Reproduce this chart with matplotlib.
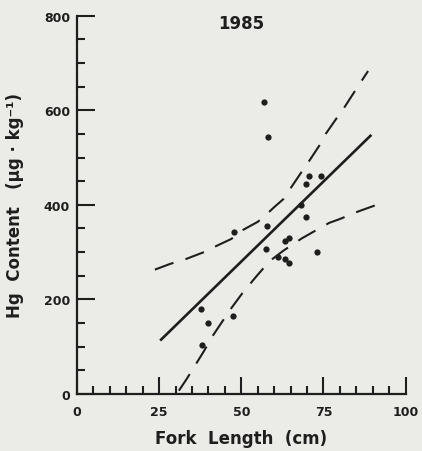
import matplotlib
matplotlib.use("Agg")
import matplotlib.pyplot as plt
from matplotlib.ticker import MultipleLocator

# Data
fork_length = [56.9, 58.2, 47.8, 57.8, 57.6, 61.3, 63.3, 64.5, 63.3, 64.6,
               68.1, 69.8, 69.7, 70.5, 74.2, 72.9, 37.7, 37.9, 39.9, 47.4]
hg_content = [618, 543, 342, 356, 306, 289, 285, 278, 323, 329,
              399, 375, 444, 461, 461, 300, 180, 104, 151, 165]

fit_x = [25.3, 89.6]
fit_y = [113, 548]

upper_x = [23.7, 28.3, 33, 39, 41.5, 47, 50, 55, 57.7, 60, 62.8, 65, 68.3, 70.4, 74.4, 75.7, 79.5, 81, 85, 88.6]
upper_y = [263, 275, 285, 301, 310, 328, 345, 364, 380, 395, 412, 435, 469, 490, 532, 550, 588, 602, 645, 683]

lower_x = [31, 33.4, 35.9, 38.4, 41.5, 46.6, 50.1, 54.5, 56.5, 59.2, 62.8, 68.4, 71.7, 76.8, 80, 85.6, 91.2]
lower_y = [7, 32, 60, 88, 125, 178, 211, 248, 264, 284, 303, 329, 342, 362, 370, 386, 400]

title = "1985"
xlabel = "Fork  Length  (cm)"
ylabel = "Hg  Content   (\u00b5g \u00b7 kg\u207b\u00b9)"

bg = "#ebebe7"
ink = "#1e1e1e"

fig = plt.figure(figsize=(4.22, 4.52), dpi=100, facecolor=bg)
ax = fig.add_axes([0.1825, 0.1261, 0.7785, 0.837])
ax.set_facecolor(bg)

ax.plot(fit_x, fit_y, color=ink, lw=1.9, solid_capstyle="butt")
ax.plot(upper_x, upper_y, color=ink, lw=1.5, linestyle=(0, (9.5, 6)))
ax.plot(lower_x, lower_y, color=ink, lw=1.5, linestyle=(0, (9.5, 6)))
ax.plot(fork_length, hg_content, "o", color=ink, markersize=4.5, markeredgewidth=0)

ax.set_xlim(0, 100)
ax.set_ylim(0, 800)
for s in ["top", "right"]:
    ax.spines[s].set_visible(False)
for s in ["left", "bottom"]:
    ax.spines[s].set_linewidth(1.6)
    ax.spines[s].set_color(ink)

ax.xaxis.set_major_locator(MultipleLocator(25))
ax.xaxis.set_minor_locator(MultipleLocator(5))
ax.yaxis.set_major_locator(MultipleLocator(200))
ax.yaxis.set_minor_locator(MultipleLocator(50))
ax.tick_params(which="major", direction="in", length=13, width=1.5, color=ink,
               labelsize=9, pad=5, labelcolor=ink)
ax.tick_params(which="minor", direction="in", length=6, width=1.5, color=ink)
ax.tick_params(axis="x", which="major", length=12, pad=8)
for lab in ax.get_xticklabels() + ax.get_yticklabels():
    lab.set_fontweight("bold")

ax.text(50, 785, title, ha="center", va="center", fontsize=12, fontweight="bold", color=ink)
ax.set_xlabel(xlabel, fontsize=12, fontweight="bold", color=ink, labelpad=8)
ax.set_ylabel(ylabel, fontsize=12, fontweight="bold", color=ink, labelpad=14)

fig.savefig("out.png", dpi=100, facecolor=bg)
